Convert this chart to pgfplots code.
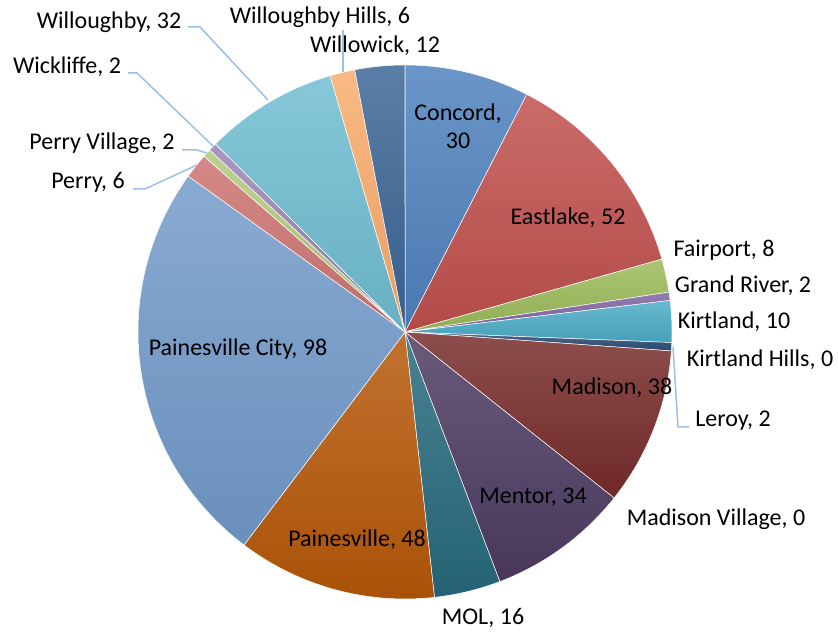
\documentclass[border=0pt]{standalone}
\usepackage{fontspec}
\setmainfont{Carlito}
\usepackage{pgfplots}
\usepackage{pgfplotstable}
\pgfplotsset{compat=1.18}

% Excel 2007 palette and its darker / lighter variants
\definecolor{c1}{HTML}{4F81BD}
\definecolor{c2}{HTML}{C0504D}
\definecolor{c3}{HTML}{9BBB59}
\definecolor{c4}{HTML}{8064A2}
\definecolor{c5}{HTML}{4BACC6}
\definecolor{c6}{HTML}{F79646}
\definecolor{c7}{HTML}{2C4D75}
\definecolor{c8}{HTML}{772C2A}
\definecolor{c9}{HTML}{5F7530}
\definecolor{c10}{HTML}{4D3B62}
\definecolor{c11}{HTML}{276A7C}
\definecolor{c12}{HTML}{B65708}
\definecolor{c13}{HTML}{729ACA}
\definecolor{c14}{HTML}{CD7371}
\definecolor{c15}{HTML}{AFC97A}
\definecolor{c16}{HTML}{9983B5}
\definecolor{c17}{HTML}{6FBDD1}
\definecolor{c18}{HTML}{F9AB6B}
\definecolor{c19}{HTML}{3A6595}
\definecolor{leader}{HTML}{9CBFEA}

\pgfplotstableread{
name value col
Concord 30 c1
Eastlake 52 c2
Fairport 8 c3
{Grand River} 2 c4
Kirtland 10 c5
{Kirtland Hills} 0 c6
Leroy 2 c7
Madison 38 c8
{Madison Village} 0 c9
Mentor 34 c10
MOL 16 c11
Painesville 48 c12
{Painesville City} 98 c13
Perry 6 c14
{Perry Village} 2 c15
Wickliffe 2 c16
Willoughby 32 c17
{Willoughby Hills} 6 c18
Willowick 12 c19
}\piedata

\def\total{398}
\def\cx{405}
\def\cy{303}
\def\rad{133.5pt}

\begin{document}
\begin{tikzpicture}
\begin{axis}[
    scale only axis,
    width=419pt, height=317.5pt,
    xmin=0, xmax=838, ymin=0, ymax=635,
    hide axis,
    clip=false,
]
\def\cum{0}
\pgfplotsforeachungrouped \i in {0,...,18}{%
  \pgfplotstablegetelem{\i}{value}\of\piedata
  \let\v\pgfplotsretval
  \pgfplotstablegetelem{\i}{col}\of\piedata
  \let\c\pgfplotsretval
  \pgfmathsetmacro\a{90-\cum*(360/\total)}
  \pgfmathsetmacro\cum{\cum+\v}
  \pgfmathsetmacro\b{90-\cum*(360/\total)}
  \ifdim\v pt>0pt
    \edef\temp{\noexpand\path[top color=\c!84!white, bottom color=\c!93!black, draw=white, line width=0.25pt]
      (axis cs:\cx,\cy) -- ++(\a:\rad) arc[start angle=\a, end angle=\b, radius=\rad] -- cycle;}%
    \temp
  \fi
}

% leader lines
\draw[leader, line width=0.75pt] (axis cs:188,608) -- (axis cs:200,608) -- (axis cs:268,535);
\draw[leader, line width=0.75pt] (axis cs:343,605) -- (axis cs:343,563);
\draw[leader, line width=0.75pt] (axis cs:128,562) -- (axis cs:137,562) -- (axis cs:213,489);
\draw[leader, line width=0.75pt] (axis cs:182,485) -- (axis cs:197,485) -- (axis cs:207,482);
\draw[leader, line width=0.75pt] (axis cs:133,446) -- (axis cs:145,446) -- (axis cs:197,470);
\draw[leader, line width=0.75pt] (axis cs:673,288) -- (axis cs:678,208) -- (axis cs:689,208);

% data labels
\tikzset{lbl/.style={font=\fontsize{12}{14}\selectfont, inner sep=0pt, text=black}}
\node[lbl] at (axis cs:109,613) {Willoughby, 32};
\node[lbl] at (axis cs:320,618) {Willoughby Hills, 6};
\node[lbl] at (axis cs:375,589) {Willowick, 12};
\node[lbl] at (axis cs:67,568) {Wickliffe, 2};
\node[lbl] at (axis cs:102,492) {Perry Village, 2};
\node[lbl] at (axis cs:88,453) {Perry, 6};
\node[lbl, align=center] at (axis cs:458,509) {Concord,\\30};
\node[lbl] at (axis cs:568,417) {Eastlake, 52};
\node[lbl] at (axis cs:724,385) {Fairport, 8};
\node[lbl] at (axis cs:743,349) {Grand River, 2};
\node[lbl] at (axis cs:734,313) {Kirtland, 10};
\node[lbl] at (axis cs:760,275) {Kirtland Hills, 0};
\node[lbl] at (axis cs:733,214) {Leroy, 2};
\node[lbl] at (axis cs:612,247) {Madison, 38};
\node[lbl] at (axis cs:716,116) {Madison Village, 0};
\node[lbl] at (axis cs:533,138) {Mentor, 34};
\node[lbl] at (axis cs:483,17) {MOL, 16};
\node[lbl] at (axis cs:357,95) {Painesville, 48};
\node[lbl] at (axis cs:238,286) {Painesville City, 98};
\end{axis}
\pgfresetboundingbox
\path[use as bounding box] (0,0) rectangle (419pt,317.5pt);
\end{tikzpicture}
\end{document}
